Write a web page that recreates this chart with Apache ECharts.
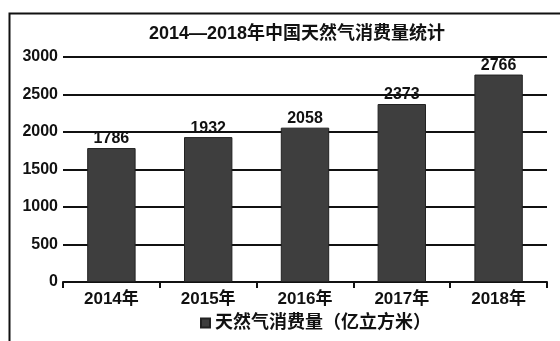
<!DOCTYPE html>
<html><head><meta charset="utf-8">
<script src="https://cdn.jsdelivr.net/npm/echarts@6/dist/echarts.min.js"></script>
<style>html,body{margin:0;padding:0;background:#fff}#c{width:560px;height:341px}</style>
</head><body><div id="c"></div>
<script>
var titleText = '2014—2018年中国天然气消费量统计';
var categories = ['2014年', '2015年', '2016年', '2017年', '2018年'];
var seriesName = '天然气消费量（亿立方米）';
var values = [1786, 1932, 2058, 2373, 2766];
var yTicks = [0, 500, 1000, 1500, 2000, 2500, 3000];

var FONT = '"Liberation Sans", "Noto Sans CJK SC", sans-serif';
var chart = echarts.init(document.getElementById('c'), null, {renderer: 'canvas'});
chart.setOption({
  backgroundColor: '#ffffff',
  animation: false,
  textStyle: {fontFamily: FONT, color: '#111'},
  title: {
    text: titleText, left: 292, top: 20, textAlign: 'center',
    textStyle: {fontSize: 18, fontWeight: 'bold', color: '#111', fontFamily: FONT}
  },
  graphic: [{
    type: 'rect', left: 7, top: 11, silent: true,
    shape: {width: 600, height: 400},
    style: {fill: 'none', stroke: '#111', lineWidth: 2}
  }],
  legend: {
    bottom: 4, left: 195, icon: 'rect', itemWidth: 9, itemHeight: 9, itemGap: 6,
    data: [seriesName],
    textStyle: {fontSize: 18, fontWeight: 'bold', color: '#111', fontFamily: FONT}
  },
  grid: {left: 63, right: 13, top: 57, bottom: 59, containLabel: false},
  xAxis: {
    type: 'category', data: categories,
    axisLine: {show: true, lineStyle: {color: '#111', width: 2}},
    axisTick: {show: true, length: 6, lineStyle: {color: '#111', width: 2}},
    axisLabel: {fontSize: 17, fontWeight: 'bold', color: '#111', margin: 9, fontFamily: FONT}
  },
  yAxis: {
    type: 'value', min: yTicks[0], max: yTicks[yTicks.length - 1], interval: 500,
    axisLine: {show: false}, axisTick: {show: false},
    splitLine: {show: true, lineStyle: {color: '#111', width: 2}},
    axisLabel: {fontSize: 16, fontWeight: 'bold', color: '#111', margin: 5, fontFamily: FONT,
      formatter: function (v) { return String(v); }}
  },
  series: [{
    name: seriesName, type: 'bar', data: values, barWidth: '50%',
    itemStyle: {color: '#3e3e3e', borderColor: '#222', borderWidth: 1},
    label: {show: true, position: 'top', distance: 1, fontSize: 16, fontWeight: 'bold', color: '#111', fontFamily: FONT}
  }]
});
</script></body></html>
